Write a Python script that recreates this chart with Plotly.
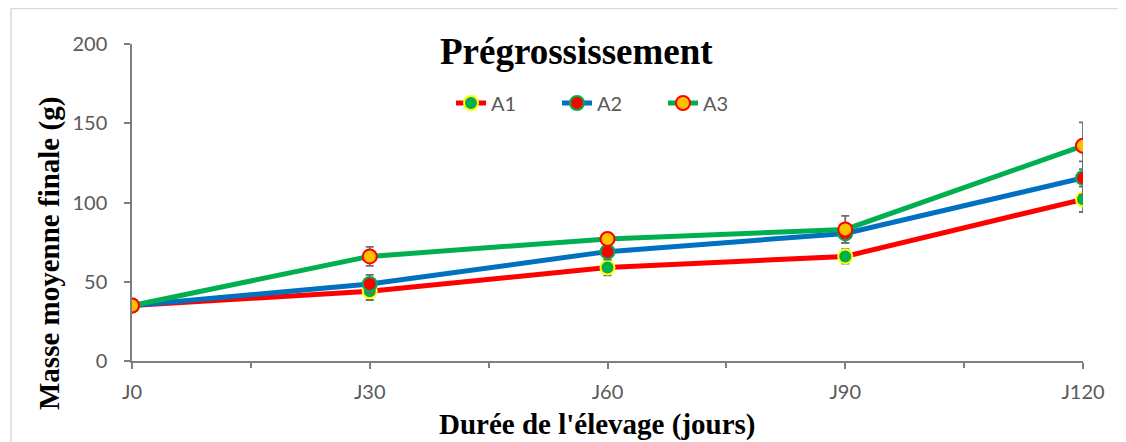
import plotly.graph_objects as go

categories = ["J0", "J30", "J60", "J90", "J120"]
a1 = [35, 44, 59, 66, 102]
a2 = [35, 48.6, 69, 80.5, 115.5]
a3 = [35, 66, 77, 83, 135.8]
a1_err = [0, 5.5, 5, 4.6, 8]
a2_err = [0, 5.7, 5, 6, 10.5]
a3_err = [0, 6, 2, 8.5, 14.7]
y_ticks = [0, 50, 100, 150, 200]

OFF = 8  # page body margin
W, H = 1126 - OFF, 442 - OFF
L, T = 132 - OFF, 44 - OFF
pw, ph = 951, 317
R = W - L - pw
B = H - T - ph

def px(x):
    return (x - 132) / pw

def py(y):
    return (361 - y) / ph

xs = list(range(len(categories)))
series = [
    ("A1", a1, a1_err, "#FF0000", "#00B050", "#FFFF00"),
    ("A2", a2, a2_err, "#0070C0", "#FF0000", "#00B050"),
    ("A3", a3, a3_err, "#00B050", "#FFC000", "#FF0000"),
]

fig = go.Figure()
for name, vals, err, lc, fc, bc in series:
    fig.add_trace(go.Scatter(
        x=xs, y=vals, name=name, mode="lines+markers",
        line=dict(color=lc, width=5),
        marker=dict(size=14, color=fc, line=dict(color=bc, width=2)),
        error_y=dict(type="data", array=err, visible=True,
                     color="#6d6d6d", thickness=1.8, width=4),
    ))

axis_col = "#7f7f7f"
tick_font = dict(family="Lato, Open Sans, sans-serif", size=20, color="#595959")

fig.update_xaxes(
    range=[0, len(categories) - 1], tickmode="array", tickvals=xs, ticktext=categories,
    showgrid=False, zeroline=False, showline=True, linecolor=axis_col, linewidth=1.5,
    ticks="outside", ticklen=6, tickwidth=1.5, tickcolor=axis_col, tickfont=tick_font,
    minor=dict(tickmode="array", tickvals=[0.5, 1.5, 2.5, 3.5], ticks="outside",
               ticklen=5, tickwidth=1.5, tickcolor=axis_col, showgrid=False),
    ticklabelstandoff=6,
)
fig.update_yaxes(
    range=[0, 200], tickmode="array", tickvals=y_ticks,
    showgrid=False, zeroline=False, showline=True, linecolor=axis_col, linewidth=1.5,
    ticks="outside", ticklen=6, tickwidth=1.5, tickcolor=axis_col, tickfont=tick_font,
    ticklabelstandoff=13,
)

serif = "Liberation Serif, Times New Roman, serif"
fig.update_layout(
    width=W, height=H, autosize=False,
    margin=dict(l=L, r=R, t=T, b=B),
    plot_bgcolor="white", paper_bgcolor="white",
    showlegend=True,
    legend=dict(orientation="h", x=px(451), y=py(103), xanchor="left", yanchor="middle",
                font=dict(family="Lato, Open Sans, sans-serif", size=20, color="#595959"),
                bgcolor="rgba(0,0,0,0)", entrywidth=61, entrywidthmode="pixels",
                tracegroupgap=0),
    annotations=[
        dict(text="<b>Prégrossissement</b>", xref="paper", yref="paper",
             x=px(576), y=py(52), xanchor="center", yanchor="middle", showarrow=False,
             font=dict(family=serif, size=37, color="black")),
        dict(text="<b>Durée de l'élevage (jours)</b>", xref="paper", yref="paper",
             x=px(597), y=py(424), xanchor="center", yanchor="middle", showarrow=False,
             font=dict(family=serif, size=29, color="black")),
        dict(text="<b>Masse moyenne finale (g)</b>", xref="paper", yref="paper",
             x=px(49), y=py(254), xanchor="center", yanchor="middle", showarrow=False,
             textangle=-90, font=dict(family=serif, size=29, color="black")),
    ],
    shapes=[
        dict(type="rect", xref="paper", yref="paper", x0=px(11), x1=px(1140),
             y0=py(460), y1=py(8.5), line=dict(color="#d9d9d9", width=1.5),
             fillcolor="rgba(0,0,0,0)", layer="below"),
    ],
)

fig.write_html("out.html")
